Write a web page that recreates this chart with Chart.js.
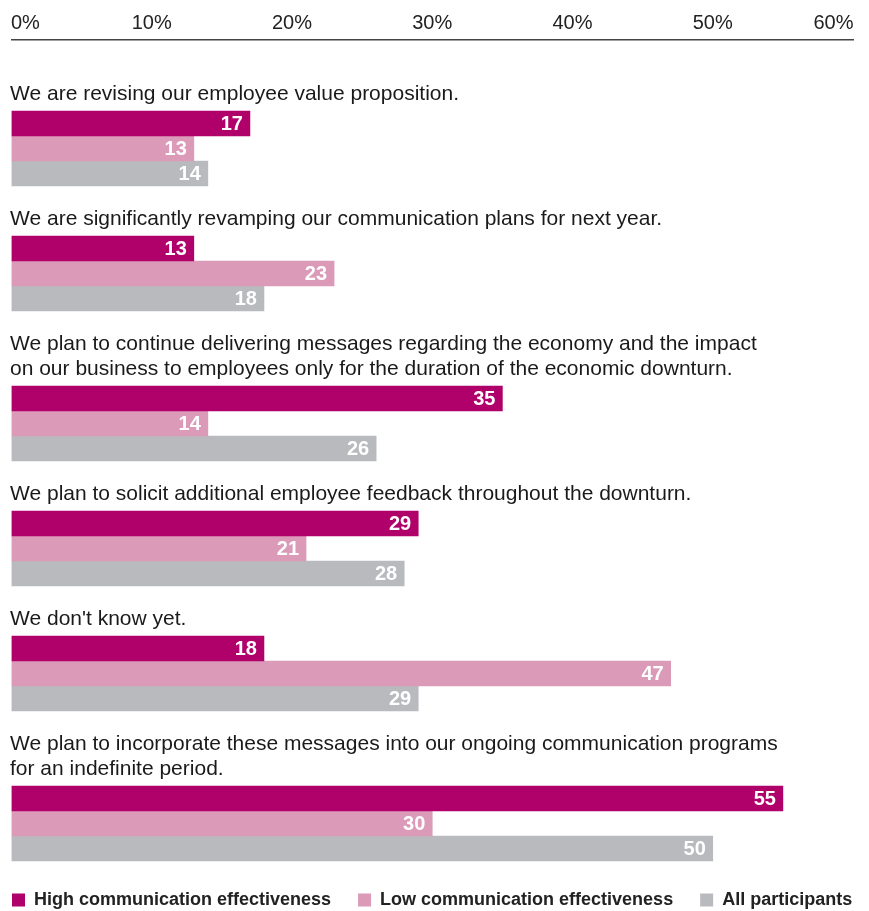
<!DOCTYPE html>
<html>
<head>
<meta charset="utf-8">
<style>
  html, body { margin: 0; padding: 0; background: #ffffff; }
  #wrap { width: 869px; height: 911px; position: relative; }
</style>
<script src="https://cdn.jsdelivr.net/npm/chart.js@4.4.1/dist/chart.umd.min.js"></script>
</head>
<body>
<div id="wrap"><canvas id="chart" width="869" height="911"></canvas></div>
<script>
// Survey statements (one entry per line of the statement text)
const statements = [
  ["We are revising our employee value proposition."],
  ["We are significantly revamping our communication plans for next year."],
  ["We plan to continue delivering messages regarding the economy and the impact",
   "on our business to employees only for the duration of the economic downturn."],
  ["We plan to solicit additional employee feedback throughout the downturn."],
  ["We don't know yet."],
  ["We plan to incorporate these messages into our ongoing communication programs",
   "for an indefinite period."]
];

// Share of respondents (%) per statement
const highEffectiveness = [17, 13, 35, 29, 18, 55];
const lowEffectiveness  = [13, 23, 14, 21, 47, 30];
const allParticipants   = [14, 18, 26, 28, 29, 50];

const seriesNames = ["High communication effectiveness", "Low communication effectiveness", "All participants"];
const tickValues = [0, 10, 20, 30, 40, 50, 60];
const tickLabels = ["0%", "10%", "20%", "30%", "40%", "50%", "60%"];

const FONT = "'Liberation Sans', Arial, sans-serif";
const COLORS = ["#b0006a", "#da9ab8", "#b9babe"];

// Vertical layout in row units (one row per bar): each statement takes its
// text lines, one spacer row, and three bar rows.
const TOP_MARGIN = 0.84, GAP = 1, ROW_PX = 25;
const barTops = [];
let cursor = TOP_MARGIN;
statements.forEach(lines => {
  cursor += GAP + lines.length;
  barTops.push(cursor);
  cursor += 3;
});
const PLOT_HEIGHT = 839;              // space between the top axis and the legend
const Y_MAX = PLOT_HEIGHT / ROW_PX;

const series = [highEffectiveness, lowEffectiveness, allParticipants];
const datasets = series.map((vals, s) => ({
  label: seriesNames[s],
  data: vals.map((v, g) => ({ x: v, y: barTops[g] + s + 0.5 })),
  backgroundColor: COLORS[s],
  borderWidth: 0,
  barThickness: ROW_PX,
  grouped: false
}));

// Statement text above each block of bars
const statementText = {
  id: "statementText",
  afterDatasetsDraw(chart) {
    const { ctx, scales: { y }, chartArea } = chart;
    ctx.save();
    ctx.font = "21px " + FONT;
    ctx.fillStyle = "#1a1a1a";
    ctx.textAlign = "left";
    ctx.textBaseline = "alphabetic";
    statements.forEach((lines, g) => {
      const n = lines.length;
      lines.forEach((line, i) => {
        const yy = y.getPixelForValue(barTops[g] - 0.44 - (n - 1 - i));
        ctx.fillText(line, chartArea.left - 1.5, yy);
      });
    });
    ctx.restore();
  }
};

// Value printed inside the end of each bar
const valueLabels = {
  id: "valueLabels",
  afterDatasetsDraw(chart) {
    const { ctx } = chart;
    ctx.save();
    ctx.font = "bold 20px " + FONT;
    ctx.fillStyle = "#ffffff";
    ctx.textAlign = "right";
    ctx.textBaseline = "middle";
    chart.data.datasets.forEach((ds, di) => {
      chart.getDatasetMeta(di).data.forEach((bar, i) => {
        ctx.fillText(String(ds.data[i].x), bar.x - 7, bar.y + 1);
      });
    });
    ctx.restore();
  }
};

// Percent labels along the top axis (outer labels aligned to the axis ends)
const topTicks = {
  id: "topTicks",
  afterDraw(chart) {
    const { ctx, scales: { x } } = chart;
    ctx.save();
    ctx.font = "20px " + FONT;
    ctx.fillStyle = "#222222";
    ctx.textBaseline = "alphabetic";
    tickValues.forEach((v, i) => {
      let px = x.getPixelForValue(v);
      if (i === 0) { ctx.textAlign = "left"; px -= 0.5; }
      else if (i === tickValues.length - 1) { ctx.textAlign = "right"; px += 0.5; }
      else ctx.textAlign = "center";
      ctx.fillText(tickLabels[i], px, 29);
    });
    ctx.restore();
  }
};

// Invisible side scales that reserve the left/right margins of the plot
// (the legend keeps the full canvas width).
const marginScale = (position, width) => ({
  type: "linear",
  position,
  display: true,
  ticks: { display: false },
  grid: { display: false, drawTicks: false },
  border: { display: false },
  afterFit(scale) { scale.width = width; }
});

new Chart(document.getElementById("chart"), {
  type: "bar",
  data: { datasets },
  options: {
    indexAxis: "y",
    responsive: false,
    animation: false,
    layout: { padding: 0 },
    scales: {
      x: {
        type: "linear",
        position: "top",
        min: 0,
        max: 60,
        ticks: { display: false, stepSize: 10 },
        grid: { display: false },
        border: { display: true, color: "#444444", width: 1.5 },
        afterFit(scale) { scale.height = 40; }
      },
      y: Object.assign(marginScale("left", 11.5), {
        reverse: true,
        offset: false,
        min: 0,
        max: Y_MAX
      }),
      yRight: marginScale("right", 16)
    },
    plugins: {
      legend: {
        position: "bottom",
        align: "start",
        maxHeight: 32,
        labels: {
          boxWidth: 13,
          boxHeight: 13,
          padding: 12,
          color: "#222222",
          font: { family: FONT, size: 18, weight: "bold" },
          generateLabels(chart) {
            const items = Chart.defaults.plugins.legend.labels.generateLabels(chart);
            // wider spacing between the legend entries
            items.forEach((it, i) => { if (i < items.length - 1) it.text += "\u00a0\u00a0\u00a0"; });
            return items;
          }
        }
      },
      tooltip: { enabled: false }
    }
  },
  plugins: [statementText, valueLabels, topTicks]
});
</script>
</body>
</html>
